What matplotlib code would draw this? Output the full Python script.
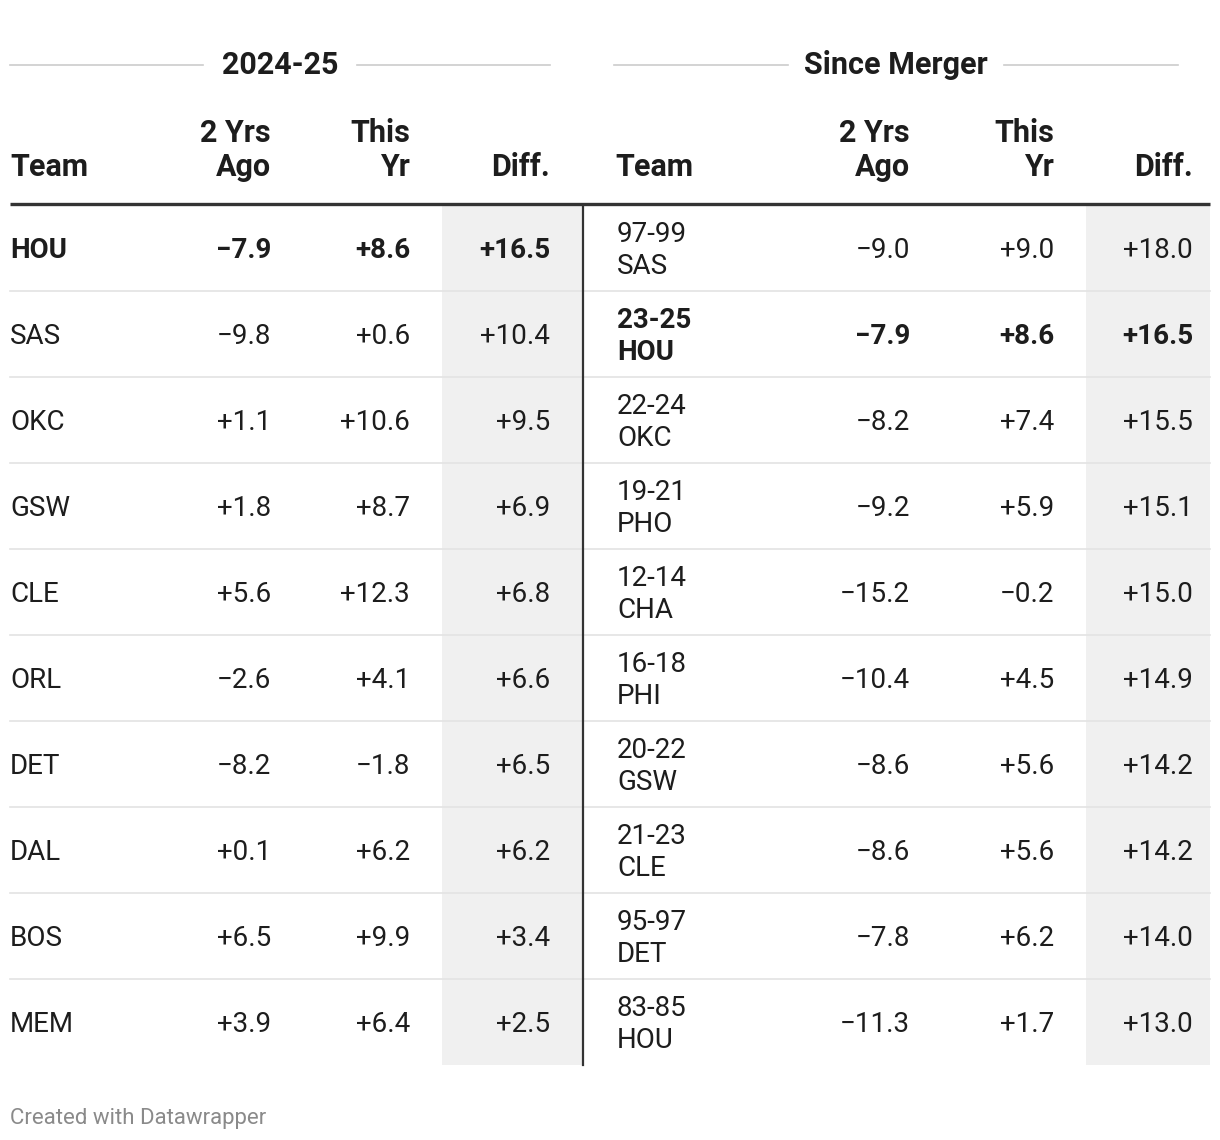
import matplotlib
matplotlib.use("Agg")
import matplotlib.pyplot as plt
from matplotlib.patches import Rectangle

# ---- data ----
left_teams = ["HOU", "SAS", "OKC", "GSW", "CLE", "ORL", "DET", "DAL", "BOS", "MEM"]
left_two_yrs_ago = [-7.9, -9.8, 1.1, 1.8, 5.6, -2.6, -8.2, 0.1, 6.5, 3.9]
left_this_yr = [8.6, 0.6, 10.6, 8.7, 12.3, 4.1, -1.8, 6.2, 9.9, 6.4]
left_diff = [16.5, 10.4, 9.5, 6.9, 6.8, 6.6, 6.5, 6.2, 3.4, 2.5]

right_years = ["97-99", "23-25", "22-24", "19-21", "12-14", "16-18", "20-22", "21-23", "95-97", "83-85"]
right_teams = ["SAS", "HOU", "OKC", "PHO", "CHA", "PHI", "GSW", "CLE", "DET", "HOU"]
right_two_yrs_ago = [-9.0, -7.9, -8.2, -9.2, -15.2, -10.4, -8.6, -8.6, -7.8, -11.3]
right_this_yr = [9.0, 8.6, 7.4, 5.9, -0.2, 4.5, 5.6, 5.6, 6.2, 1.7]
right_diff = [18.0, 16.5, 15.5, 15.1, 15.0, 14.9, 14.2, 14.2, 14.0, 13.0]

left_bold_row = 0
right_bold_row = 1

group_titles = ["2024-25", "Since Merger"]
col_headers = ["Team", "2 Yrs\nAgo", "This\nYr", "Diff."]
footer = "Created with Datawrapper"

# ---- style ----
FONT = "Roboto"
TXT = "#1d1d1d"
W, H = 1220, 1140
fig = plt.figure(figsize=(W / 100, H / 100), dpi=100)
ax = fig.add_axes([0, 0, 1, 1])
ax.set_xlim(0, W)
ax.set_ylim(H, 0)
ax.axis("off")

FS = 20
HFS = 22
top = 205
row_h = 86
n = len(left_teams)
bottom = top + n * row_h


def fmt(v):
    s = f"{abs(v):.1f}"
    return ("+" if v >= 0 else "\u2212") + s


# shaded diff columns
ax.add_patch(Rectangle((442, top), 140, n * row_h, facecolor="#f0f0f0", edgecolor="none", zorder=0))
ax.add_patch(Rectangle((1086, top), 124, n * row_h, facecolor="#f0f0f0", edgecolor="none", zorder=0))

# row separators
for i in range(1, n):
    y = top + i * row_h
    ax.plot([10, 1210], [y, y], color="#e3e3e3", lw=1.2, zorder=1)

# header thick line
ax.plot([10, 1210], [top - 1, top - 1], color="#333333", lw=2.4, solid_capstyle="butt", zorder=3)
# vertical divider
ax.plot([583, 583], [top, bottom], color="#333333", lw=1.6, zorder=3)

# group titles with lines
ax.text(280, 65, group_titles[0], ha="center", va="center", fontsize=HFS, fontweight="bold", family=FONT, color=TXT)
ax.plot([10, 203], [65, 65], color="#cccccc", lw=1.2)
ax.plot([357, 550], [65, 65], color="#cccccc", lw=1.2)
ax.text(896, 65, group_titles[1], ha="center", va="center", fontsize=HFS, fontweight="bold", family=FONT, color=TXT)
ax.plot([614, 788], [65, 65], color="#cccccc", lw=1.2)
ax.plot([1004, 1178], [65, 65], color="#cccccc", lw=1.2)

# column headers
left_x = [(10, "left"), (271, "right"), (410, "right"), (550, "right")]
right_x = [(615, "left"), (910, "right"), (1054, "right"), (1193, "right")]
for xs in (left_x, right_x):
    for (x, ha), h in zip(xs, col_headers):
        ax.text(x, 176, h, ha=ha, va="baseline", fontsize=HFS, fontweight="bold",
                family=FONT, color=TXT, linespacing=1.18)

# left rows
for i in range(n):
    yc = top + i * row_h + row_h / 2
    fw = "bold" if i == left_bold_row else "normal"
    vals = [left_teams[i], fmt(left_two_yrs_ago[i]), fmt(left_this_yr[i]), fmt(left_diff[i])]
    for (x, ha), v in zip(left_x, vals):
        ax.text(x, yc, v, ha=ha, va="center_baseline", fontsize=FS, fontweight=fw, family=FONT, color=TXT)

# right rows
for i in range(n):
    yc = top + i * row_h + row_h / 2
    fw = "bold" if i == right_bold_row else "normal"
    ax.text(right_x[0][0] + 2, yc - 16, right_years[i], ha="left", va="center_baseline", fontsize=FS,
            fontweight=fw, family=FONT, color=TXT)
    ax.text(right_x[0][0] + 2, yc + 16, right_teams[i], ha="left", va="center_baseline", fontsize=FS,
            fontweight=fw, family=FONT, color=TXT)
    vals = [fmt(right_two_yrs_ago[i]), fmt(right_this_yr[i]), fmt(right_diff[i])]
    for (x, ha), v in zip(right_x[1:], vals):
        ax.text(x, yc, v, ha=ha, va="center_baseline", fontsize=FS, fontweight=fw, family=FONT, color=TXT)

ax.text(10, 1116, footer, ha="left", va="center_baseline", fontsize=16, family=FONT, color="#8a8a8a")

fig.savefig("out.png", dpi=100, facecolor="white")
